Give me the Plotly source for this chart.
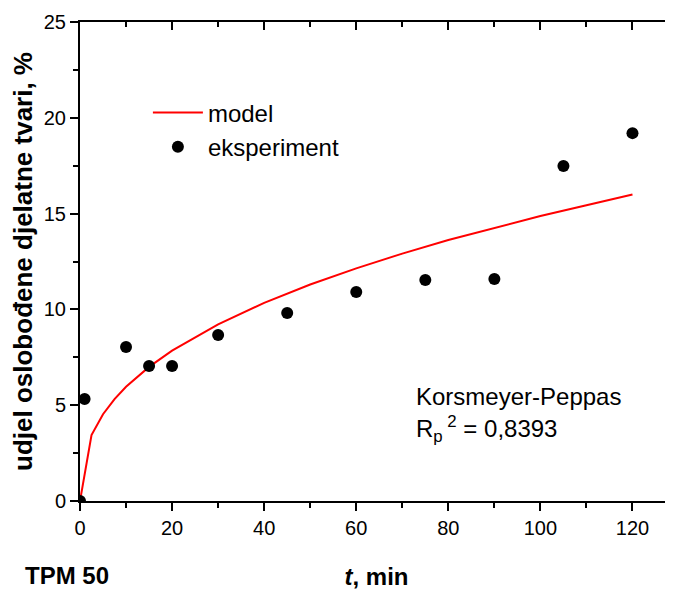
import plotly.graph_objects as go

# experimental release data
t_exp = [0, 1, 10, 15, 20, 30, 45, 60, 75, 90, 105, 120]
y_exp = [0.0, 5.32, 8.04, 7.05, 7.05, 8.66, 9.81, 10.91, 11.53, 11.59, 17.48, 19.2]

# Korsmeyer-Peppas model curve
t_model = [0, 2.5, 5, 7.5, 10, 15, 20, 30, 40, 50, 60, 70, 80, 90, 100, 110, 120]
y_model = [0.0, 3.44, 4.53, 5.32, 5.96, 7.00, 7.85, 9.22, 10.34, 11.30, 12.14,
           12.91, 13.62, 14.26, 14.87, 15.44, 16.0]

x_ticks = [0, 20, 40, 60, 80, 100, 120]
y_ticks = [0, 5, 10, 15, 20, 25]

FONT = "Liberation Sans, Arial, sans-serif"

fig = go.Figure()
fig.add_trace(go.Scatter(x=t_model, y=y_model, mode="lines", name="model",
                         line=dict(color="#ff0000", width=2)))
fig.add_trace(go.Scatter(x=t_exp, y=y_exp, mode="markers", name="eksperiment",
                         marker=dict(color="black", size=12)))
# dummy trace so the top axis is drawn
fig.add_trace(go.Scatter(x=[None], y=[None], xaxis="x2", showlegend=False))

# page body has an 8px margin, so the figure is a bit smaller than the window
fig.update_layout(
    width=665, height=586,
    margin=dict(l=72, r=0, t=14, b=93),
    plot_bgcolor="white", paper_bgcolor="white",
    font=dict(family=FONT, size=20, color="black"),
    showlegend=True,
    legend=dict(x=0.1145, y=0.857, xanchor="left", yanchor="top",
                font=dict(size=24), bgcolor="rgba(0,0,0,0)",
                tracegroupgap=0, itemwidth=50),
    xaxis=dict(range=[0, 128.8], tickvals=x_ticks, showgrid=False, zeroline=False,
               showline=True, linecolor="black", linewidth=2, automargin=False,
               ticks="outside", ticklen=8, tickwidth=2, tickcolor="black",
               minor=dict(dtick=10, ticks="outside", ticklen=5, tickwidth=2, tickcolor="black"),
               title=dict(text="<b><i>t</i>, min</b>", font=dict(size=24), standoff=30)),
    xaxis2=dict(range=[0, 128.8], overlaying="x", side="top", matches="x",
                tickvals=x_ticks, showticklabels=False, showgrid=False, zeroline=False,
                showline=True, linecolor="black", linewidth=2, automargin=False,
                ticks="inside", ticklen=8, tickwidth=2, tickcolor="black",
                minor=dict(dtick=10, ticks="inside", ticklen=5, tickwidth=2, tickcolor="black")),
    yaxis=dict(range=[0, 25], tickvals=y_ticks, showgrid=False, zeroline=False,
               showline=True, linecolor="black", linewidth=2, automargin=False,
               ticks="outside", ticklen=8, tickwidth=2, tickcolor="black",
               minor=dict(dtick=2.5, ticks="outside", ticklen=5, tickwidth=2, tickcolor="black"),
               title=dict(text="<b>udjel oslobođene djelatne tvari, %</b>",
                          font=dict(size=26), standoff=8)),
)

fig.add_annotation(text="Korsmeyer-Peppas", x=0.563, y=0.219, xref="paper", yref="paper",
                   xanchor="left", yanchor="middle", showarrow=False, font=dict(size=24))
fig.add_annotation(text="R<sub>p</sub><sup> 2</sup> = 0,8393", x=0.563, y=0.151,
                   xref="paper", yref="paper", xanchor="left", yanchor="middle",
                   showarrow=False, font=dict(size=24))
fig.add_annotation(text="<b>TPM 50</b>", x=-0.096, y=-0.155, xref="paper", yref="paper",
                   xanchor="left", yanchor="middle", showarrow=False, font=dict(size=24))

fig.write_html("out.html")
